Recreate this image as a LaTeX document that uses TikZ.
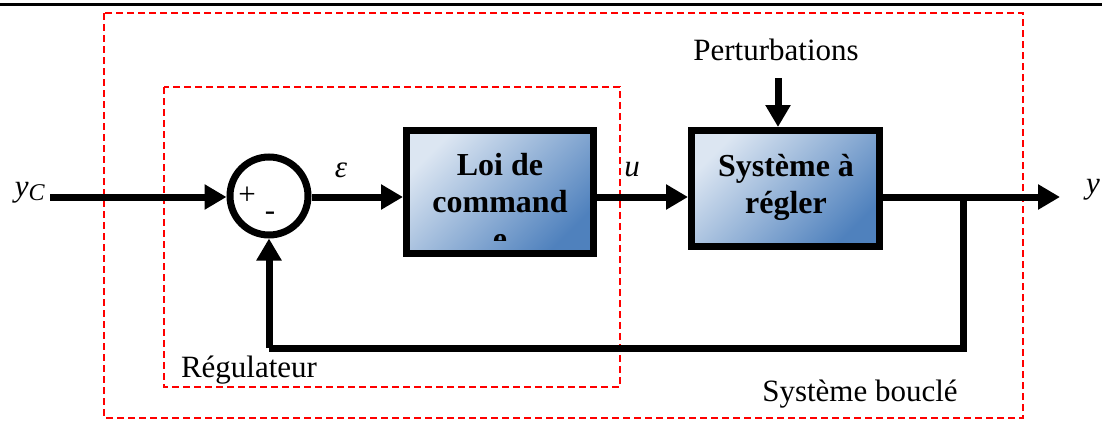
\documentclass[tikz,border=0pt]{standalone}
\usepackage{fontspec}
\setmainfont{Liberation Serif}
\usetikzlibrary{arrows.meta}
\definecolor{boxlight}{HTML}{DCE6F2}
\definecolor{boxdark}{HTML}{4F81BD}
\tikzset{
  wire/.style={line width=7pt},
  flow/.style={wire, -{Triangle[length=22pt,width=24pt]}},
  frame/.style={red, line width=2pt, dash pattern=on 7pt off 4pt},
  blockbox/.style={draw=black, line width=7pt, top color=boxlight, bottom color=boxdark,
    shading angle=45, inner sep=0pt},
  sumnode/.style={circle, draw=black, line width=7pt, minimum size=78pt, inner sep=0pt, fill=white},
  lbl/.style={font=\fontsize{31}{37}\selectfont, inner sep=0pt},
  blocktext/.style={font=\fontsize{32}{37}\selectfont\bfseries, align=center, inner sep=0pt},
}
\begin{document}
\begin{tikzpicture}[x=1pt,y=-1pt]
\useasboundingbox (0,0) rectangle (1102,423);
% rule along the top
\draw[line width=3pt] (0,4) -- (1102,4);

% dashed frames
\draw[frame] (104,13) rectangle (1023,418);
\draw[frame] (164,87) rectangle (620,387);

% blocks
\node[sumnode] (sum) at (269,196) {};
\node[blockbox, minimum width=187pt, minimum height=123pt] (loi) at (500,192) {};
\node[blockbox, minimum width=188pt, minimum height=116pt] (sys) at (785.5,188.5) {};

\begin{scope}
  \clip (410,134) rectangle (590,240);
  \node[blocktext] (loitxt) at (500,202) {Loi de\\command\\e};
\end{scope}
\node[blocktext] (systxt) at (786,187) {Système à\\régler};

% signs in the summing junction
\node[lbl] (plus) at (247,196) {+};
\node[lbl] (minus) at (270,216) {-};

% signal points
\coordinate (yin) at (50,197);
\coordinate (yout) at (1060,197);
\coordinate (tap) at (963,197);
\coordinate (fbr) at (963,348);
\coordinate (fbl) at (269,348);
\coordinate (pert) at (778,78);

% connectors
\draw[flow] (yin) -- (sum.west |- yin);
\draw[flow] (sum.east |- yin) -- (loi.west |- yin);
\draw[flow] (loi.east |- yin) -- (sys.west |- yin);
\draw[flow] (sys.east |- yin) -- (yout);
\draw[flow] (pert) -- (sys.north -| pert);
\draw[wire, line join=miter] (tap) -- (fbr) -- (fbl);
\draw[flow] (fbl) -- (sum.south);

% labels
\node[lbl] (ptxt) at (776,50) {Perturbations};
\node[lbl] (eps) at (341,170) {\textit{ε}};
\node[lbl] (u) at (632,170) {\textit{u}};
\node[lbl] (y) at (1093,190) {\textit{y}};
\node[lbl, anchor=east] (yc) at (45,193) {\textit{y}\raisebox{-4pt}{\fontsize{24}{24}\selectfont\textit{C}}};
\node[lbl] (reg) at (249,370) {Régulateur};
\node[lbl] (boucle) at (860,394) {Système bouclé};
\end{tikzpicture}
\end{document}
